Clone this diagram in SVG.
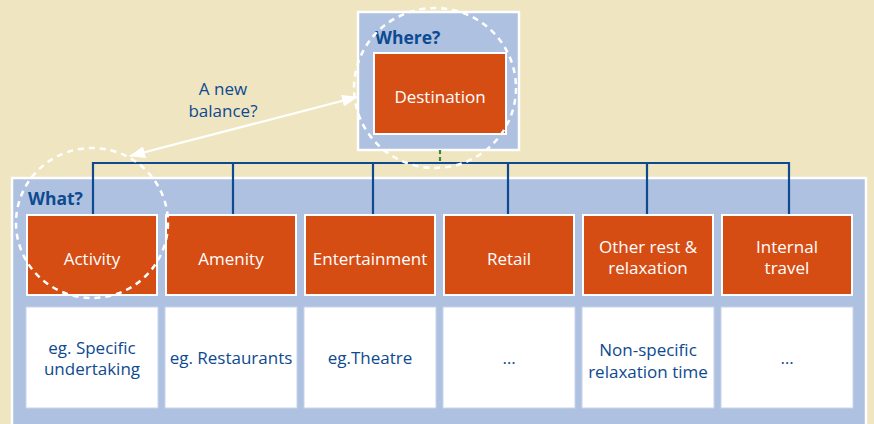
<svg xmlns="http://www.w3.org/2000/svg" width="874" height="424" viewBox="0 0 874 424">
<defs>
<style>
.panel{fill:#AEC1E0;stroke:#fff;stroke-width:2.5}
.org{fill:#D64D14;stroke:#fff;stroke-width:2}
.wht{fill:#fff;stroke:#C8D4EA;stroke-width:1}
.lbl{font-family:"Open Sans","Noto Sans",sans-serif;font-size:17px;fill:#fff;text-anchor:middle}
.txt{font-family:"Open Sans","Noto Sans",sans-serif;font-size:17px;fill:#0D4A90;text-anchor:middle}
.hd{font-family:"Open Sans","Noto Sans",sans-serif;font-size:17.5px;font-weight:bold;fill:#0D4A90}
.tree{fill:none;stroke:#0D4A90;stroke-width:2.2}
.dash{fill:none;stroke:#fff;stroke-width:2.5;stroke-dasharray:6 5}
</style>
<marker id="ah" markerWidth="16" markerHeight="12" refX="15" refY="6" orient="auto-start-reverse" markerUnits="userSpaceOnUse">
<path d="M0,0 L16,6 L0,12 Z" fill="#fff"/>
</marker>
</defs>
<rect x="0" y="0" width="874" height="424" fill="#EFE5C1"/>
<g id="what-panel">
<rect class="panel" x="12" y="178" width="854" height="250"/>
<text class="hd" x="28" y="205">What?</text>
</g>
<g id="where-panel">
<rect class="panel" x="358" y="12" width="161" height="138"/>
<text class="hd" x="375" y="44">Where?</text>
</g>
<g id="destination">
<rect class="org" x="374" y="53" width="132" height="81"/>
<text class="lbl" x="440" y="103">Destination</text>
</g>
<g id="connectors">
<line x1="440" y1="150" x2="440" y2="163" stroke="#3A8A2E" stroke-width="2.2" stroke-dasharray="4 3"/>
<path class="tree" d="M93,215 V163 H789 V215 M233,163 V215 M373,163 V215 M508,163 V215 M647,163 V215"/>
<line x1="130" y1="156" x2="357" y2="97" stroke="#fff" stroke-width="2.2" marker-start="url(#ah)" marker-end="url(#ah)"/>
<text class="txt" x="223" y="95">A new</text>
<text class="txt" x="223" y="117">balance?</text>
</g>
<g id="activity">
<rect class="org" x="27" y="215" width="130" height="80"/>
<text class="lbl" x="92" y="265">Activity</text>
<rect class="wht" x="26" y="307" width="132" height="101"/>
<text class="txt" x="92" y="354">eg. Specific</text>
<text class="txt" x="92" y="375">undertaking</text>
</g>
<g id="amenity">
<rect class="org" x="166" y="215" width="130" height="80"/>
<text class="lbl" x="231" y="265">Amenity</text>
<rect class="wht" x="165" y="307" width="132" height="101"/>
<text class="txt" x="231" y="364">eg. Restaurants</text>
</g>
<g id="entertainment">
<rect class="org" x="305" y="215" width="130" height="80"/>
<text class="lbl" x="370" y="265">Entertainment</text>
<rect class="wht" x="304" y="307" width="132" height="101"/>
<text class="txt" x="370" y="364">eg.Theatre</text>
</g>
<g id="retail">
<rect class="org" x="444" y="215" width="130" height="80"/>
<text class="lbl" x="509" y="265">Retail</text>
<rect class="wht" x="443" y="307" width="132" height="101"/>
<text class="txt" x="509" y="364">…</text>
</g>
<g id="other-rest">
<rect class="org" x="583" y="215" width="130" height="80"/>
<text class="lbl" x="648" y="253">Other rest &amp;</text>
<text class="lbl" x="648" y="274">relaxation</text>
<rect class="wht" x="582" y="307" width="132" height="101"/>
<text class="txt" x="648" y="356">Non-specific</text>
<text class="txt" x="648" y="378">relaxation time</text>
</g>
<g id="internal-travel">
<rect class="org" x="722" y="215" width="130" height="80"/>
<text class="lbl" x="787" y="253">Internal</text>
<text class="lbl" x="787" y="274">travel</text>
<rect class="wht" x="721" y="307" width="132" height="101"/>
<text class="txt" x="787" y="364">…</text>
</g>
<g id="highlights">
<ellipse class="dash" cx="435" cy="88" rx="81" ry="80"/>
<ellipse class="dash" cx="92" cy="223" rx="76" ry="75"/>
</g>
</svg>
